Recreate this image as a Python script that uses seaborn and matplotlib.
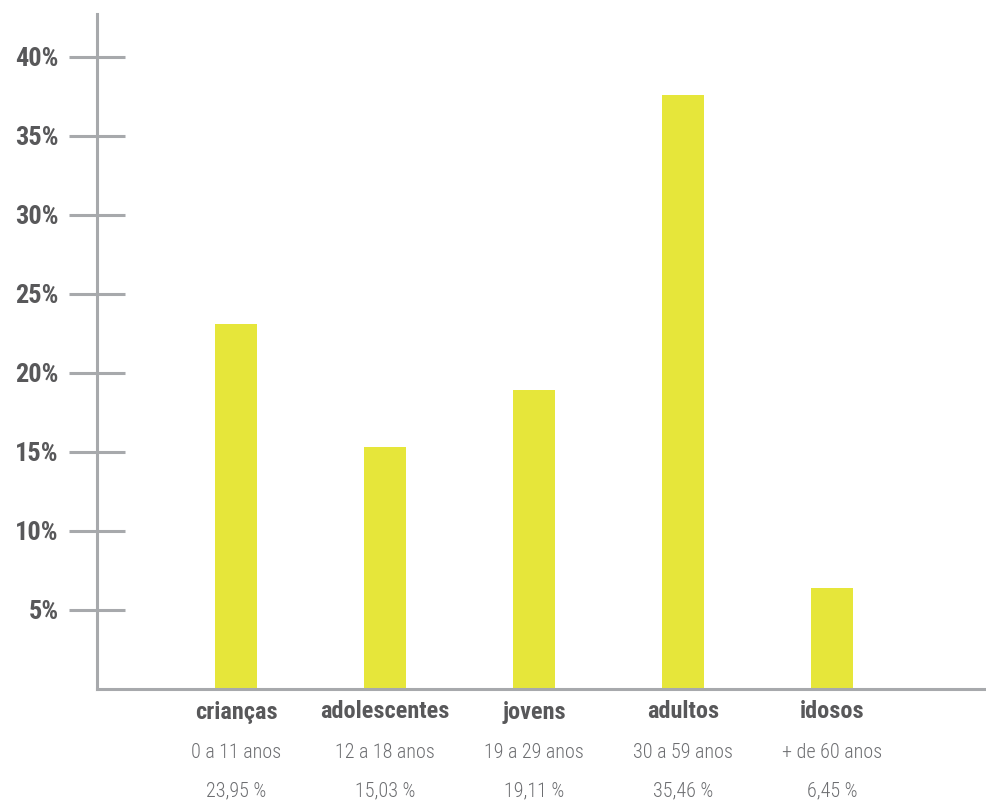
import matplotlib
matplotlib.use("Agg")
import matplotlib.pyplot as plt
import matplotlib.transforms as mtransforms
import seaborn as sns
import pandas as pd

categories = ["crianças", "adolescentes", "jovens", "adultos", "idosos"]
age_ranges = ["0 a 11 anos", "12 a 18 anos", "19 a 29 anos", "30 a 59 anos", "+ de 60 anos"]
pct_labels = ["23,95 %", "15,03 %", "19,11 %", "35,46 %", "6,45 %"]
bar_values = [23.1, 15.3, 18.9, 37.6, 6.4]
y_ticks = [5, 10, 15, 20, 25, 30, 35, 40]
y_tick_labels = ["5%", "10%", "15%", "20%", "25%", "30%", "35%", "40%"]

df = pd.DataFrame({"cat": categories, "val": bar_values})

sns.set_style("white")
plt.rcParams["font.family"] = ["Roboto Condensed", "Barlow Condensed", "DejaVu Sans"]

W, H = 987, 801
fig = plt.figure(figsize=(W / 100, H / 100), dpi=100)
left, right, top, bottom = 97, 987, 14, 689
ax = fig.add_axes([left / W, 1 - bottom / H, (right - left) / W, (bottom - top) / H])

sns.barplot(data=df, x="cat", y="val", color="#e6e63a", saturation=1, width=0.28, ax=ax)
for p in ax.patches:
    p.set_edgecolor("none")

ax.set_xlim(-0.933, 5.04)
ax.set_ylim(0, 42.7)
ax.set_xlabel("")
ax.set_ylabel("")

grey = "#a7a9ac"
for s in ["top", "right"]:
    ax.spines[s].set_visible(False)
for s in ["left", "bottom"]:
    ax.spines[s].set_color(grey)
    ax.spines[s].set_linewidth(2.2)

ax.set_yticks(y_ticks)
ax.set_yticklabels(y_tick_labels, fontsize=19, fontweight="bold", color="#58585a")
ax.tick_params(axis="y", direction="inout", length=41, width=2.2, color=grey, pad=7, left=True)
ax.set_xticks([])

trans = mtransforms.blended_transform_factory(ax.transData, fig.transFigure)
for i, (c, a, p) in enumerate(zip(categories, age_ranges, pct_labels)):
    ax.text(i, 1 - 712 / H, c, transform=trans, ha="center", va="center",
            fontsize=17.5, fontweight="bold", color="#58585a")
    ax.text(i, 1 - 752 / H, a, transform=trans, ha="center", va="center",
            fontsize=14.5, fontweight="light", color="#6d6e71")
    ax.text(i, 1 - 791 / H, p, transform=trans, ha="center", va="center",
            fontsize=14.5, fontweight="light", color="#6d6e71")

fig.savefig("out.png", dpi=100)
